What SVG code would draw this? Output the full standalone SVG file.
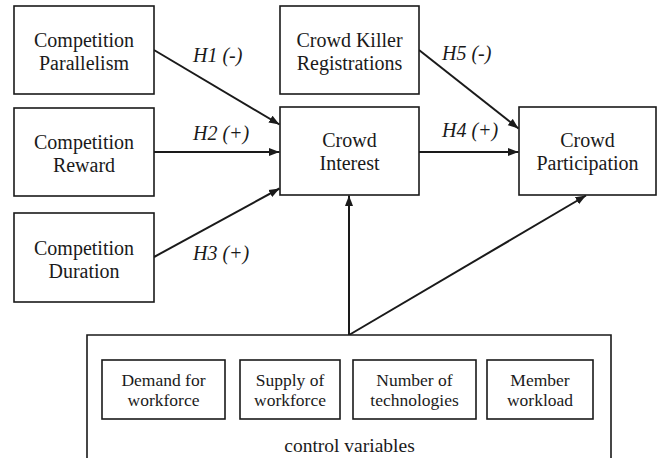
<svg xmlns="http://www.w3.org/2000/svg" width="663" height="458" viewBox="0 0 663 458">
<style>
.box{fill:#fff;stroke:#1a1a1a;stroke-width:1.6}
.t{font-family:'Liberation Serif','DejaVu Serif',serif;font-size:20px;fill:#1a1a1a;text-anchor:middle}
.s{font-family:'Liberation Serif','DejaVu Serif',serif;font-size:17.5px;fill:#1a1a1a;text-anchor:middle}
.h{font-family:'Liberation Serif','DejaVu Serif',serif;font-size:20px;font-style:italic;fill:#1a1a1a}
.c{fill:none;stroke:#1a1a1a;stroke-width:2}
</style>
<defs>
<marker id="arr" markerUnits="userSpaceOnUse" markerWidth="11" markerHeight="9" refX="10.5" refY="4.5" orient="auto">
<path d="M0,0.5 L10.5,4.5 L0,8.5 z" fill="#1a1a1a"/>
</marker>
</defs>
<rect width="663" height="458" fill="#fff"/>
<g id="connectors">
<line class="c" x1="154" y1="50" x2="279.5" y2="124.5" marker-end="url(#arr)"/>
<line class="c" x1="154" y1="152" x2="279.5" y2="152" marker-end="url(#arr)"/>
<line class="c" x1="154" y1="257" x2="279.5" y2="188.5" marker-end="url(#arr)"/>
<line class="c" x1="419" y1="50" x2="518.5" y2="128.5" marker-end="url(#arr)"/>
<line class="c" x1="419" y1="152" x2="518.5" y2="152" marker-end="url(#arr)"/>
<line class="c" x1="349" y1="335" x2="349" y2="195.5" marker-end="url(#arr)"/>
<line class="c" x1="349" y1="335" x2="586" y2="195.5" marker-end="url(#arr)"/>
<text class="h" x="193" y="62">H1 (-)</text>
<text class="h" x="193" y="140">H2 (+)</text>
<text class="h" x="193" y="260">H3 (+)</text>
<text class="h" x="442" y="60">H5 (-)</text>
<text class="h" x="442" y="137">H4 (+)</text>
</g>
<g id="parallelism">
<rect class="box" x="14" y="6" width="140" height="88"/>
<text class="t" x="84" y="47">Competition</text>
<text class="t" x="84" y="70">Parallelism</text>
</g>
<g id="reward">
<rect class="box" x="14" y="108" width="140" height="88"/>
<text class="t" x="84" y="149">Competition</text>
<text class="t" x="84" y="172">Reward</text>
</g>
<g id="duration">
<rect class="box" x="14" y="213" width="140" height="89"/>
<text class="t" x="84" y="255">Competition</text>
<text class="t" x="84" y="278">Duration</text>
</g>
<g id="killer">
<rect class="box" x="280" y="6" width="139" height="88"/>
<text class="t" x="349.5" y="47">Crowd Killer</text>
<text class="t" x="349.5" y="70">Registrations</text>
</g>
<g id="interest">
<rect class="box" x="280" y="107" width="139" height="88"/>
<text class="t" x="349.5" y="147">Crowd</text>
<text class="t" x="349.5" y="170">Interest</text>
</g>
<g id="participation">
<rect class="box" x="519" y="107" width="137" height="88"/>
<text class="t" x="587.5" y="147">Crowd</text>
<text class="t" x="587.5" y="170">Participation</text>
</g>
<g id="controls">
<path class="box" d="M87,462 L87,335 L611,335 L611,462" fill="none"/>
<text class="t" x="349.5" y="452" style="font-size:19.5px">control variables</text>
</g>
<g id="demand">
<rect class="box" x="102" y="360" width="123" height="59"/>
<text class="s" x="163.5" y="386">Demand for</text>
<text class="s" x="163.5" y="406">workforce</text>
</g>
<g id="supply">
<rect class="box" x="240" y="360" width="100" height="59"/>
<text class="s" x="290" y="386">Supply of</text>
<text class="s" x="290" y="406">workforce</text>
</g>
<g id="technologies">
<rect class="box" x="353" y="360" width="123" height="59"/>
<text class="s" x="414.5" y="386">Number of</text>
<text class="s" x="414.5" y="406">technologies</text>
</g>
<g id="workload">
<rect class="box" x="487" y="360" width="106" height="59"/>
<text class="s" x="540" y="386">Member</text>
<text class="s" x="540" y="406">workload</text>
</g>
</svg>
